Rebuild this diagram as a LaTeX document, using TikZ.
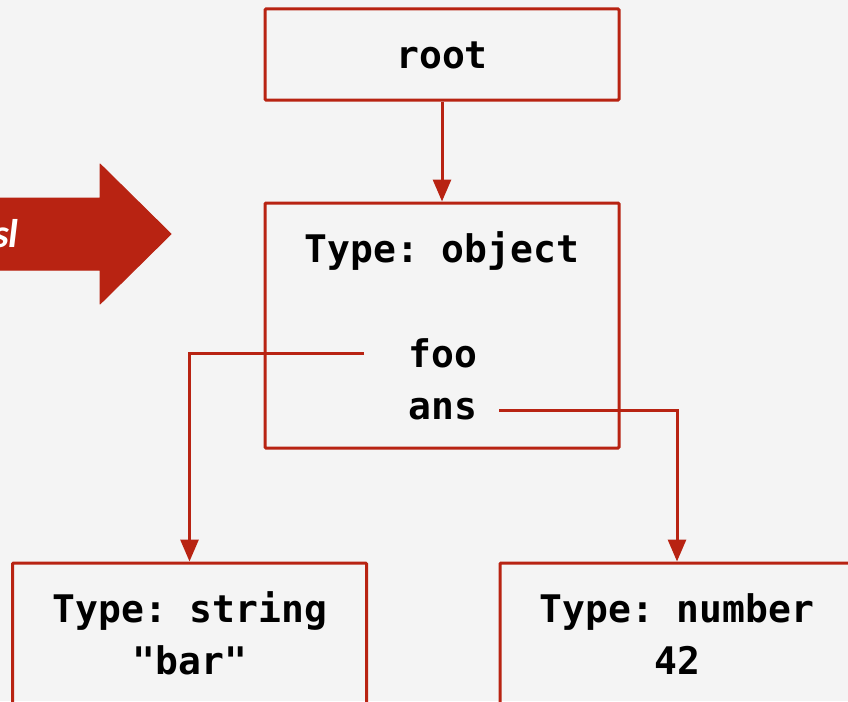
\documentclass[tikz,border=0pt]{standalone}
\usepackage{fontspec}
\setmonofont{DejaVu Sans Mono}
\newfontfamily\arrowfont{Carlito}
\usetikzlibrary{arrows.meta}
\definecolor{jred}{RGB}{184,35,18}
\definecolor{bgc}{RGB}{244,244,244}
\begin{document}
\begin{tikzpicture}[x=1pt,y=-1pt,
  box/.style={draw=jred, line width=3pt, rounded corners=1pt, minimum width=354pt, inner sep=0pt},
  lbl/.style={font=\ttfamily\bfseries\fontsize{38}{46}\selectfont, anchor=base, inner sep=0pt},
  conn/.style={draw=jred, line width=3pt, -{Triangle[width=18pt,length=22pt]}},
  bigarrow/.style={fill=jred, draw=jred, line width=1pt, line join=round}]
\fill[bgc] (0,0) rectangle (848,701);
\useasboundingbox (0,0) rectangle (848,701);
\begin{scope}
\clip (0,0) rectangle (848,701);
% big arrow on the left
\path[bigarrow] (-10,198) -- (100,198) -- (100,164) -- (171,234) -- (100,304) -- (100,270) -- (-10,270) -- cycle;
\node[font=\arrowfont\bfseries\itshape\fontsize{40}{48}\selectfont, text=white, anchor=base east, inner sep=0pt] (sl) at (19,247) {sl};
% boxes
\node[box, minimum height=91pt] (root) at (442,54.5) {};
\node[box, minimum height=245pt] (obj) at (442,325.5) {};
\node[box, minimum height=160pt] (lbox) at (189.5,643) {};
\node[box, minimum height=160pt] (rbox) at (677,643) {};
% texts
\node[lbl] (troot) at (442,68) {root};
\node[lbl] (tobj) at (442,262) {Type: object};
\node[lbl] (foo) at (443,367) {foo};
\node[lbl] (ans) at (443,419) {ans};
\node[lbl] (tstr) at (190,622) {Type: string};
\node[lbl] (vstr) at (190,674) {"bar"};
\node[lbl] (tnum) at (677,622) {Type: number};
\node[lbl] (vnum) at (677,674) {42};
% connectors
\coordinate (fooline) at (364,353);
\coordinate (ansline) at (499,410);
\draw[conn] (root.south) -- (obj.north);
\draw[conn] (fooline) -| (lbox.north);
\draw[conn] (ansline) -| (rbox.north);
\end{scope}
\end{tikzpicture}
\end{document}
